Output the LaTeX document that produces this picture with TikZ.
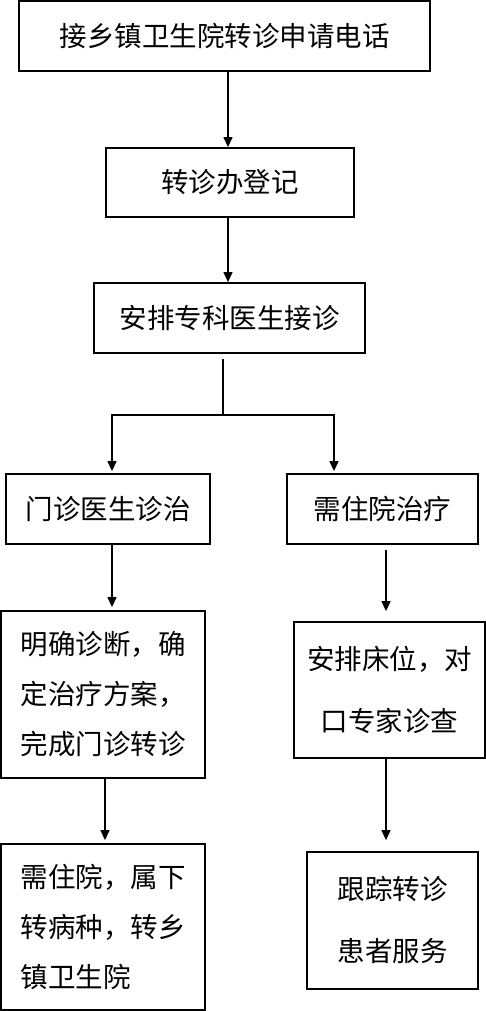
\documentclass[tikz,border=0pt]{standalone}
\usepackage{fontspec}
\newfontfamily\cjk{Noto Sans CJK SC}
\usetikzlibrary{arrows.meta, positioning, calc}

\begin{document}
\begin{tikzpicture}[
    x=1pt, y=-1pt,
    box/.style={rectangle, draw, line width=1.8pt, inner sep=0pt, align=center, font=\cjk\fontsize{27.5}{50}\selectfont},
    wide/.style={box, minimum height=70pt},
    para/.style={box, text width=165pt, align=left},
    loose/.style={box, font=\cjk\fontsize{27.5}{62}\selectfont},
    arrow/.style={-{Triangle[length=10pt, width=9pt]}, line width=1.3pt},
    link/.style={line width=1.3pt}
]
\useasboundingbox (0,0) rectangle (486,1011);

\node[wide, minimum width=411pt] (call) at (224.5,36) {接乡镇卫生院转诊申请电话};
\node[wide, minimum width=248pt, minimum height=69pt] (register) at (230,182.5) {转诊办登记};
\node[wide, minimum width=271pt] (assign) at (229.5,318) {安排专科医生接诊};

\node[wide, minimum width=204pt] (clinic) at (108,509) {门诊医生诊治};
\node[wide, minimum width=191pt] (inpat) at (382.5,509) {需住院治疗};

\node[para, minimum width=204pt, minimum height=167pt] (diagnose) at (103,694.5) {明确诊断，确\\定治疗方案，\\完成门诊转诊};
\node[loose, minimum width=191pt, minimum height=136pt] (bed) at (389.5,690) {安排床位，对\\口专家诊查};

\node[para, minimum width=204pt, minimum height=166pt] (downref) at (103,927) {需住院，属下\\转病种，转乡\\镇卫生院};
\node[loose, minimum width=171pt, minimum height=137pt] (follow) at (392.5,920.5) {跟踪转诊\\患者服务};

\coordinate (split) at (223,415);
\coordinate (lft) at (112,415);
\coordinate (rgt) at (334,415);
\coordinate (mid) at (386,0);

\draw[arrow] (call.south -| 228,0) -- (register.north -| 228,0);
\draw[arrow] (register.south -| 228,0) -- (assign.north -| 228,0);
\draw[link] ($(assign.south -| split)+(0,5)$) -- (split);
\draw[arrow] (split) -- (lft) -- ($(lft |- clinic.north)+(0,-2)$);
\draw[arrow] (split) -- (rgt) -- ($(rgt |- inpat.north)+(0,-2)$);

\draw[arrow] (clinic.south -| lft) -- ($(lft |- diagnose.north)+(0,-3)$);
\draw[arrow] ($(inpat.south -| mid)+(0,5)$) -- ($(mid |- bed.north)+(0,-10)$);
\draw[arrow] (diagnose.south -| 105,0) -- ($(downref.north -| 105,0)+(0,-3)$);
\draw[arrow] (bed.south -| mid) -- ($(mid |- follow.north)+(0,-11)$);

\end{tikzpicture}
\end{document}
